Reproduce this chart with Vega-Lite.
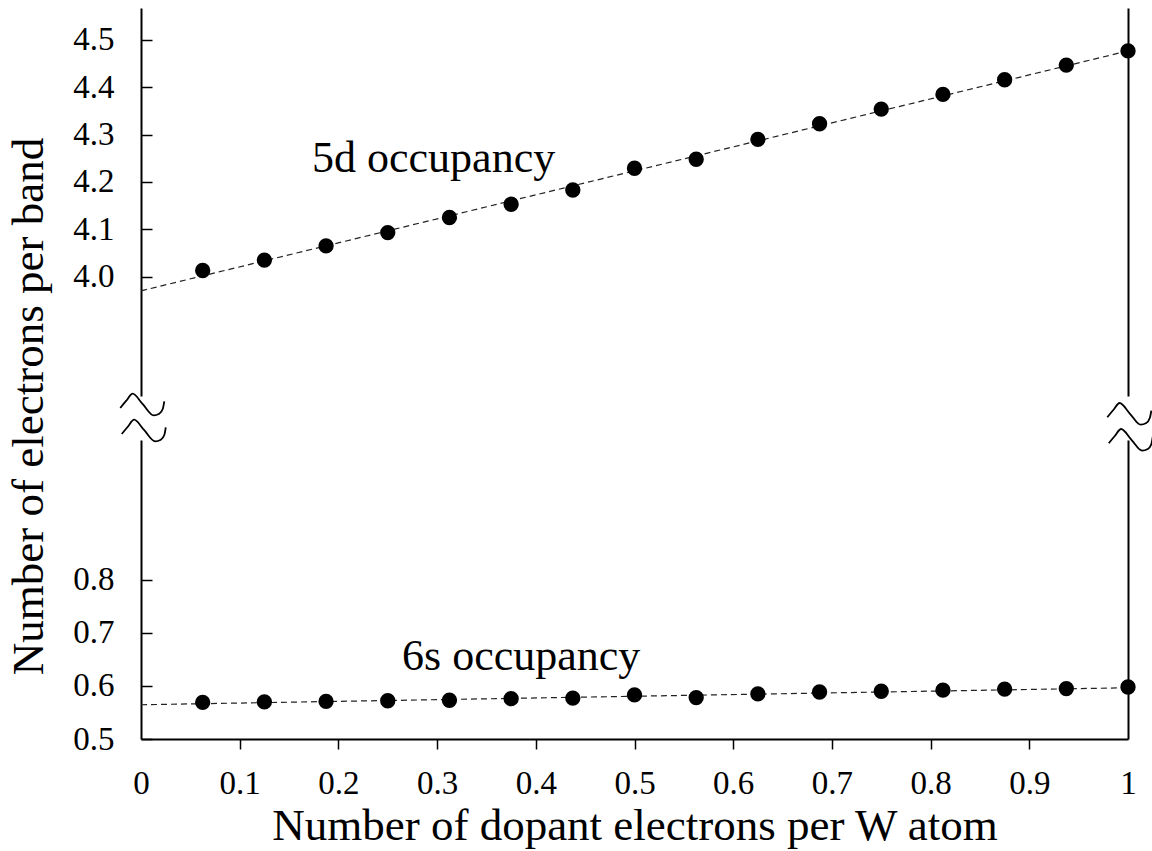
{
  "$schema": "https://vega.github.io/schema/vega-lite/v6.json",
  "background": "white",
  "padding": {"left": 5, "top": 8, "right": 5, "bottom": 5},
  "bounds": "flush",
  "spacing": 44,
  "config": {
    "view": {"stroke": null},
    "font": "Liberation Serif",
    "axis": {
      "grid": false,
      "domainColor": "black",
      "domainWidth": 2,
      "tickColor": "black",
      "tickWidth": 1.5,
      "labelColor": "black",
      "labelFont": "Liberation Serif",
      "labelFontSize": 33,
      "titleFont": "Liberation Serif",
      "titleFontSize": 45,
      "titleFontWeight": "normal",
      "titleColor": "black"
    }
  },
  "datasets": {
    "occ5d": [
      {"x": 0.0625, "y": 4.013}, {"x": 0.125, "y": 4.035}, {"x": 0.1875, "y": 4.065},
      {"x": 0.25, "y": 4.093}, {"x": 0.3125, "y": 4.125}, {"x": 0.375, "y": 4.153},
      {"x": 0.4375, "y": 4.183}, {"x": 0.5, "y": 4.229}, {"x": 0.5625, "y": 4.248},
      {"x": 0.625, "y": 4.29}, {"x": 0.6875, "y": 4.323}, {"x": 0.75, "y": 4.354},
      {"x": 0.8125, "y": 4.385}, {"x": 0.875, "y": 4.416}, {"x": 0.9375, "y": 4.447},
      {"x": 1.0, "y": 4.477}
    ],
    "fit5d": [{"x": 0, "y": 3.97}, {"x": 1, "y": 4.477}],
    "occ6s": [
      {"x": 0.0625, "y": 0.569}, {"x": 0.125, "y": 0.57}, {"x": 0.1875, "y": 0.571},
      {"x": 0.25, "y": 0.572}, {"x": 0.3125, "y": 0.573}, {"x": 0.375, "y": 0.576},
      {"x": 0.4375, "y": 0.577}, {"x": 0.5, "y": 0.583}, {"x": 0.5625, "y": 0.578},
      {"x": 0.625, "y": 0.585}, {"x": 0.6875, "y": 0.5885}, {"x": 0.75, "y": 0.59},
      {"x": 0.8125, "y": 0.592}, {"x": 0.875, "y": 0.594}, {"x": 0.9375, "y": 0.595},
      {"x": 1.0, "y": 0.598}
    ],
    "fit6s": [{"x": 0, "y": 0.5645}, {"x": 1, "y": 0.5965}],
    "bandLabels5d": [{"x": 0.1733, "y": 4.222, "label": "5d occupancy"}],
    "bandLabels6s": [{"x": 0.2645, "y": 0.6305, "label": "6s occupancy"}],
    "axisBreaks": [
      {"wave": "L1", "x": -0.021, "y": 1.1234}, {"wave": "L1", "x": -0.0149, "y": 1.1371},
      {"wave": "L1", "x": -0.0085, "y": 1.1503}, {"wave": "L1", "x": 0.0018, "y": 1.1305},
      {"wave": "L1", "x": 0.0128, "y": 1.1094}, {"wave": "L1", "x": 0.0185, "y": 1.1126},
      {"wave": "L1", "x": 0.0221, "y": 1.122}, {"wave": "L1", "x": 0.0236, "y": 1.1358},
      {"wave": "L2", "x": -0.0195, "y": 1.0744}, {"wave": "L2", "x": -0.0134, "y": 1.0881},
      {"wave": "L2", "x": -0.007, "y": 1.1013}, {"wave": "L2", "x": 0.0033, "y": 1.0815},
      {"wave": "L2", "x": 0.0143, "y": 1.0605}, {"wave": "L2", "x": 0.0201, "y": 1.0637},
      {"wave": "L2", "x": 0.0237, "y": 1.0731}, {"wave": "L2", "x": 0.0251, "y": 1.0868},
      {"wave": "R1", "x": 0.979, "y": 1.1059}, {"wave": "R1", "x": 0.9851, "y": 1.1196},
      {"wave": "R1", "x": 0.9915, "y": 1.1328}, {"wave": "R1", "x": 1.0018, "y": 1.113},
      {"wave": "R1", "x": 1.0128, "y": 1.0919}, {"wave": "R1", "x": 1.0185, "y": 1.0951},
      {"wave": "R1", "x": 1.0221, "y": 1.1045}, {"wave": "R1", "x": 1.0236, "y": 1.1183},
      {"wave": "R2", "x": 0.9805, "y": 1.0569}, {"wave": "R2", "x": 0.9866, "y": 1.0706},
      {"wave": "R2", "x": 0.993, "y": 1.0838}, {"wave": "R2", "x": 1.0033, "y": 1.064},
      {"wave": "R2", "x": 1.0143, "y": 1.043}, {"wave": "R2", "x": 1.0201, "y": 1.0462},
      {"wave": "R2", "x": 1.0237, "y": 1.0556}, {"wave": "R2", "x": 1.0251, "y": 1.0693}
    ]
  },
  "vconcat": [
    {
      "width": 987,
      "height": 388,
      "layer": [
        {
          "data": {"name": "fit5d"},
          "mark": {"type": "line", "strokeDash": [6, 4], "color": "#222222", "strokeWidth": 1.2},
          "encoding": {
            "x": {"field": "x", "type": "quantitative", "scale": {"domain": [0, 1], "nice": false, "zero": false}, "axis": null},
            "y": {
              "field": "y", "type": "quantitative",
              "scale": {"domain": [3.7478, 4.5676], "nice": false, "zero": false},
              "axis": {
                "orient": "left",
                "values": [4.0, 4.1, 4.2, 4.3, 4.4, 4.5],
                "format": ".1f",
                "tickSize": -11,
                "labelPadding": 38,
                "labelBaseline": "middle",
                "labelFlush": false,
                "title": "Number of electrons per band",
                "titleAngle": 270,
                "titleAlign": "center",
                "titleBaseline": "alphabetic",
                "titleX": -99,
                "titleY": 398
              }
            }
          }
        },
        {
          "data": {"name": "occ5d"},
          "mark": {"type": "circle", "size": 235, "color": "black", "opacity": 1},
          "encoding": {
            "x": {"field": "x", "type": "quantitative", "axis": null},
            "y": {"field": "y", "type": "quantitative", "axis": {"orient": "right", "labels": false, "ticks": false, "domain": true, "title": null}}
          }
        },
        {
          "data": {"name": "bandLabels5d"},
          "mark": {"type": "text", "align": "left", "baseline": "alphabetic", "fontSize": 44, "font": "Liberation Serif", "color": "black"},
          "encoding": {
            "x": {"field": "x", "type": "quantitative", "axis": null},
            "y": {"field": "y", "type": "quantitative", "axis": null},
            "text": {"field": "label"}
          }
        }
      ],
      "resolve": {"axis": {"y": "independent"}}
    },
    {
      "width": 987,
      "height": 299,
      "layer": [
        {
          "data": {"name": "fit6s"},
          "mark": {"type": "line", "strokeDash": [6, 4], "color": "#222222", "strokeWidth": 1.2},
          "encoding": {
            "x": {
              "field": "x", "type": "quantitative",
              "scale": {"domain": [0, 1], "nice": false, "zero": false},
              "axis": {
                "values": [0, 0.1, 0.2, 0.3, 0.4, 0.5, 0.6, 0.7, 0.8, 0.9, 1],
                "format": "~g",
                "tickSize": 10,
                "tickOpacity": {"condition": {"test": "datum.value <= 0.001 || datum.value >= 0.999", "value": 0}, "value": 1},
                "labelPadding": 44,
                "labelBaseline": "alphabetic",
                "labelFlush": false,
                "labelOverlap": false,
                "title": "Number of dopant electrons per W atom",
                "titleBaseline": "alphabetic",
                "titleY": 100.7
              }
            },
            "y": {
              "field": "y", "type": "quantitative",
              "scale": {"domain": [0.5, 1.0631], "nice": false, "zero": false},
              "axis": {
                "orient": "left",
                "values": [0.5, 0.6, 0.7, 0.8],
                "format": ".1f",
                "tickSize": -11,
                "labelPadding": 38,
                "labelBaseline": "middle",
                "labelFlush": false,
                "title": null
              }
            }
          }
        },
        {
          "data": {"name": "occ6s"},
          "mark": {"type": "circle", "size": 235, "color": "black", "opacity": 1},
          "encoding": {
            "x": {"field": "x", "type": "quantitative"},
            "y": {"field": "y", "type": "quantitative", "axis": {"orient": "right", "labels": false, "ticks": false, "domain": true, "title": null}}
          }
        },
        {
          "data": {"name": "bandLabels6s"},
          "mark": {"type": "text", "align": "left", "baseline": "alphabetic", "fontSize": 44, "font": "Liberation Serif", "color": "black"},
          "encoding": {
            "x": {"field": "x", "type": "quantitative"},
            "y": {"field": "y", "type": "quantitative", "axis": null},
            "text": {"field": "label"}
          }
        },
        {
          "data": {"name": "axisBreaks"},
          "mark": {"type": "line", "interpolate": "monotone", "color": "black", "strokeWidth": 1.8},
          "encoding": {
            "x": {"field": "x", "type": "quantitative"},
            "y": {"field": "y", "type": "quantitative", "axis": null},
            "detail": {"field": "wave", "type": "nominal"}
          }
        }
      ],
      "resolve": {"axis": {"y": "independent"}}
    }
  ]
}
